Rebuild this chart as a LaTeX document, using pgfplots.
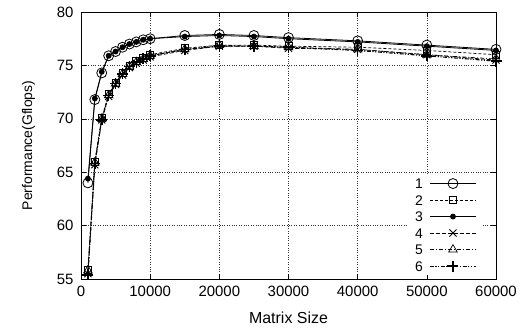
\documentclass[border=0pt]{standalone}
\usepackage{fontspec}
\setmainfont{Liberation Sans}
\usepackage{pgfplots}
\pgfplotsset{compat=1.18}
\begin{document}
\begin{tikzpicture}
\begin{axis}[
  scale only axis, width=415bp, height=267bp,
  xmin=0, xmax=60000, ymin=55, ymax=80,
  xtick={0,10000,...,60000}, ytick={55,60,...,80},
  scaled x ticks=false,
  /pgf/number format/1000 sep={},
  /pgf/number format/assume math mode=true,
  tick label style={font=\fontsize{15}{15}\selectfont},
  xticklabel style={yshift=-4bp},
  yticklabel style={xshift=-4bp},
  xlabel={Matrix Size}, ylabel={Performance(Gflops)},
  xlabel style={font=\fontsize{16}{16}\selectfont, yshift=-8bp},
  ylabel style={font=\fontsize{14}{14}\selectfont, yshift=15bp},
  tick align=inside, major tick length=5bp,
  grid=major, grid style={dotted, black!80, line width=0.45pt},
  axis line style={line width=0.8pt},
  every tick/.style={black, line width=0.6pt},
  legend plot pos=right,
  legend cell align=right,
  legend image code/.code={\draw[mark repeat=2,mark phase=2] plot coordinates {(0bp,0bp)(23bp,0bp)(46bp,0bp)};},
  legend style={at={(rel axis cs:0.968,0.39)}, anchor=north east, draw=none, fill=white,
    font=\fontsize{14}{14}\selectfont, row sep=5.5bp, /tikz/column sep=6bp, inner xsep=6bp, inner ysep=3bp,
    nodes={inner sep=0.5bp, text height=10bp, text depth=0bp}},
]
\addplot[black, line width=0.8pt, mark=o, mark size=5bp, mark options={solid, fill=none}] coordinates {
(1000,64.0)(2000,71.8)(3000,74.3)(4000,75.9)(5000,76.3)(6000,76.7)(7000,77.0)(8000,77.2)(9000,77.4)(10000,77.5)(15000,77.8)(20000,77.9)(25000,77.8)(30000,77.6)(40000,77.3)(50000,76.9)(60000,76.5)};
\addlegendentry{1}
\addplot[black, line width=0.7pt, dash pattern=on 3bp off 2bp, mark=square, mark size=3.5bp, mark options={solid}] coordinates {
(1000,55.9)(2000,66.0)(3000,70.1)(4000,72.3)(5000,73.4)(6000,74.3)(7000,75.0)(8000,75.4)(9000,75.7)(10000,76.0)(15000,76.6)(20000,76.9)(25000,76.9)(30000,76.8)(40000,76.7)(50000,76.4)(60000,76.0)};
\addlegendentry{2}
\addplot[black, line width=0.8pt, mark=*, mark size=2.5bp, mark options={solid}] coordinates {
(1000,64.4)(2000,71.9)(3000,74.4)(4000,75.9)(5000,76.3)(6000,76.7)(7000,77.0)(8000,77.2)(9000,77.4)(10000,77.5)(15000,77.7)(20000,77.8)(25000,77.7)(30000,77.5)(40000,77.2)(50000,76.8)(60000,76.4)};
\addlegendentry{3}
\addplot[black, line width=0.7pt, dash pattern=on 4bp off 2bp, mark=x, mark size=5bp, mark options={solid, line width=0.9pt}] coordinates {
(1000,55.5)(2000,65.7)(3000,69.9)(4000,72.1)(5000,73.2)(6000,74.1)(7000,74.8)(8000,75.2)(9000,75.5)(10000,75.8)(15000,76.4)(20000,76.8)(25000,76.8)(30000,76.6)(40000,76.5)(50000,76.0)(60000,75.5)};
\addlegendentry{4}
\addplot[black, line width=0.7pt, dash pattern=on 4bp off 2bp on 1bp off 2bp, mark=triangle, mark size=5bp, mark options={solid}] coordinates {
(1000,55.8)(2000,65.9)(3000,70.0)(4000,72.2)(5000,73.3)(6000,74.2)(7000,74.9)(8000,75.3)(9000,75.6)(10000,75.9)(15000,76.5)(20000,76.9)(25000,76.8)(30000,76.7)(40000,76.5)(50000,76.0)(60000,75.6)};
\addlegendentry{5}
\addplot[black, line width=1.1pt, dash pattern=on 4bp off 1.5bp on 1.2bp off 1.5bp on 1.2bp off 1.5bp, mark=+, mark size=5.5bp, mark options={solid, line width=1.6pt}] coordinates {
(1000,55.4)(2000,65.8)(3000,69.9)(4000,72.2)(5000,73.3)(6000,74.2)(7000,74.9)(8000,75.3)(9000,75.6)(10000,75.9)(15000,76.5)(20000,76.8)(25000,76.8)(30000,76.7)(40000,76.4)(50000,75.9)(60000,75.4)};
\addlegendentry{6}
\end{axis}
\pgfresetboundingbox
\path ([shift={(-81bp,-51bp)}]current axis.south west) rectangle ([shift={(33bp,12bp)}]current axis.north east);
\end{tikzpicture}
\end{document}
